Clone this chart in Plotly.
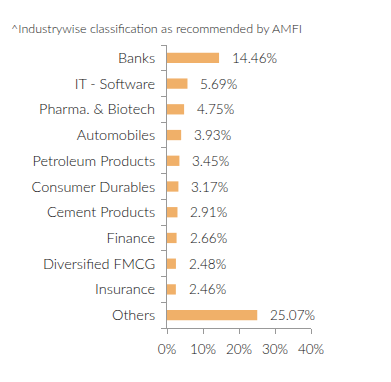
import plotly.graph_objects as go

categories = ["Banks", "IT - Software", "Pharma. & Biotech", "Automobiles", "Petroleum Products",
              "Consumer Durables", "Cement Products", "Finance", "Diversified FMCG", "Insurance", "Others"]
values = [14.46, 5.69, 4.75, 3.93, 3.45, 3.17, 2.91, 2.66, 2.48, 2.46, 25.07]
tick_vals = [0, 10, 20, 30, 40]
tick_text = ["0%", "10%", "20%", "30%", "40%"]
title_text = "^Industrywise classification as recommended by AMFI"

FONT = "Lato, sans-serif"
WT = 300
L, R, T, B = 159, 80, 37, 54
W, H = 383, 374
fig = go.Figure()
fig.add_trace(go.Bar(
    x=values, y=categories, orientation="h",
    marker=dict(color="#F0B069", line=dict(width=0)),
    width=0.4,
    hoverinfo="skip",
))
for c, v in zip(categories, values):
    fig.add_annotation(x=v, y=c, text=f"{v:.2f}%", showarrow=False,
                       xanchor="left", xshift=11,
                       font=dict(family=FONT, size=13.5, color="#111", weight=WT))

fig.update_layout(
    width=W, height=H,
    margin=dict(l=L, r=R, t=T, b=B),
    paper_bgcolor="white", plot_bgcolor="white",
    showlegend=False,
    font=dict(family=FONT, size=14, color="#111", weight=WT),
    annotations=list(fig.layout.annotations) + [dict(
        text=title_text, xref="paper", yref="paper", x=-(L - 1) / (W - L - R), y=1.0, yshift=17,
        xanchor="left", yanchor="middle", showarrow=False,
        font=dict(family=FONT, size=12.5, color="#222", weight=WT))],
)
fig.update_xaxes(range=[0, 40], tickvals=tick_vals, ticktext=tick_text,
                 showgrid=False, zeroline=False, showline=True, linecolor="#999", linewidth=1,
                 ticks="outside", ticklen=5, tickcolor="#999", ticklabelstandoff=4,
                 tickfont=dict(family=FONT, size=13.5, color="#111", weight=WT))
fig.update_yaxes(categoryorder="array", categoryarray=categories[::-1],
                 autorange=False, range=[-0.5, len(categories) - 0.5],
                 showgrid=False, zeroline=False, showline=True, linecolor="#999", linewidth=1,
                 ticks="outside", ticklen=5, tickcolor="#999", tickson="boundaries",
                 ticklabelstandoff=8,
                 tickfont=dict(family=FONT, size=14.5, color="#111", weight=WT))
fig.write_html("out.html")
